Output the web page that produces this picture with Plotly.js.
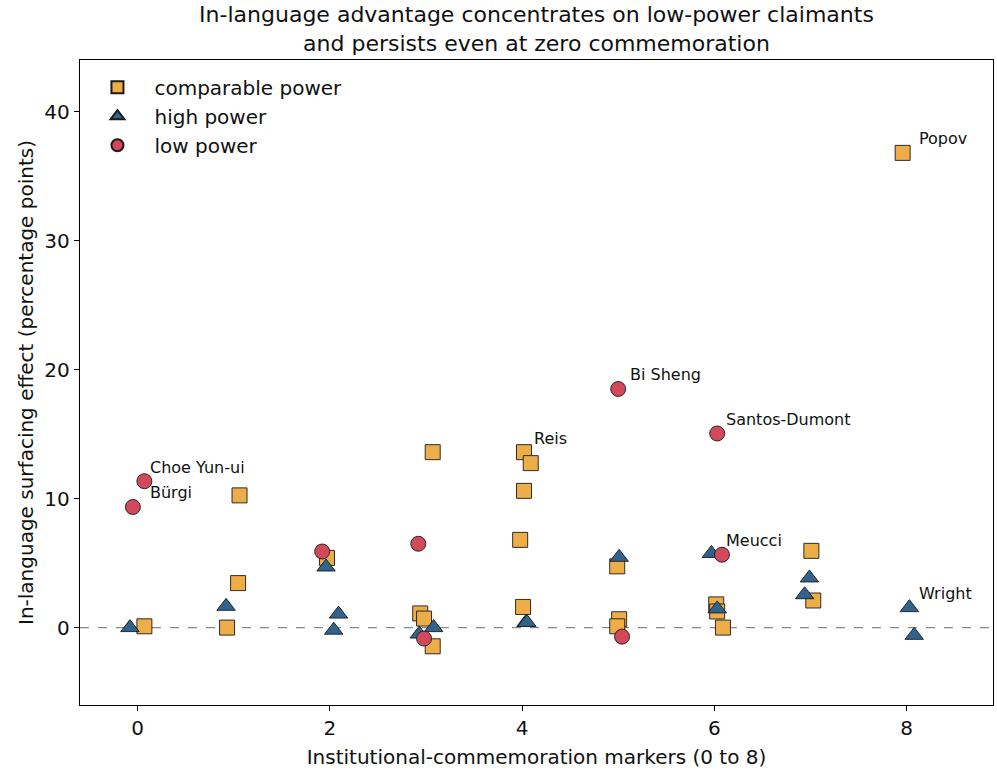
<!DOCTYPE html>
<html>
<head>
<meta charset="utf-8">
<script src="https://cdn.plot.ly/plotly-3.0.1.min.js"></script>
<style>html,body{margin:0;padding:0;background:#fff;}#chart{width:997px;height:770px;}</style>
</head>
<body>
<div id="chart"></div>
<script>
// ---- data ----
const seriesNames = ["comparable power", "high power", "low power"];

const comparableX = [0.07, 0.93, 1.045, 1.06, 1.97, 2.94, 2.98, 3.07, 3.07, 3.98, 4.01, 4.02, 4.02, 4.09, 4.99, 5.01, 4.99, 6.02, 6.03, 6.09, 7.01, 7.03, 7.96];
const comparableY = [0.1, 0.0, 3.45, 10.25, 5.4, 1.1, 0.7, -1.45, 13.6, 6.8, 1.6, 10.6, 13.6, 12.75, 4.75, 0.65, 0.1, 1.8, 1.25, 0.0, 5.95, 2.1, 36.8];

const highX = [-0.08, 0.92, 1.96, 2.04, 2.09, 2.93, 3.08, 4.04, 4.05, 5.01, 5.97, 6.03, 6.99, 6.94, 8.03, 8.08];
const highY = [0.0, 1.65, 4.7, -0.2, 1.05, -0.5, 0.0, 0.4, 0.4, 5.45, 5.75, 1.45, 3.85, 2.55, 1.55, -0.6];

const lowX = [-0.05, 0.07, 1.92, 2.92, 2.98, 5.0, 5.04, 6.03, 6.08];
const lowY = [9.35, 11.35, 5.9, 6.5, -0.85, 18.5, -0.7, 15.05, 5.65];

const labelText = ["Popov", "Choe Yun-ui", "Bürgi", "Bi Sheng", "Santos-Dumont", "Reis", "Meucci", "Wright"];
const labelX = [8, 0, 0, 5, 6, 4, 6, 8];
const labelY = [36.8, 11.35, 9.35, 18.5, 15.05, 13.6, 5.65, 1.55];

const titleText = "In-language advantage concentrates on low-power claimants<br>and persists even at zero commemoration";
const xTitle = "Institutional-commemoration markers (0 to 8)";
const yTitle = "In-language surfacing effect (percentage points)";
const xTicks = [0, 2, 4, 6, 8];
const yTicks = [0, 10, 20, 30, 40];

// ---- styles ----
const FONT = "DejaVu Sans, sans-serif";
const colors = {"comparable power": "#edae49", "high power": "#30638e", "low power": "#d1495b"};
const symbols = {"comparable power": "square", "high power": "triangle-up", "low power": "circle"};
const sizes = {"comparable power": 15, "high power": 16, "low power": 15};

const xs = [comparableX, highX, lowX];
const ys = [comparableY, highY, lowY];

const traces = seriesNames.map((name, i) => ({
  type: "scatter",
  mode: "markers",
  name: name,
  legendgroup: name,
  x: xs[i],
  y: ys[i],
  marker: {
    symbol: symbols[name],
    size: sizes[name],
    color: colors[name],
    line: {color: "#1a1a1a", width: 0.9}
  },
  hoverinfo: "x+y+name"
}));

const annotations = labelText.map((t, i) => ({
  x: labelX[i], y: labelY[i], xref: "x", yref: "y",
  text: t, showarrow: false,
  xanchor: "left", yanchor: "middle",
  xshift: 10, yshift: 14,
  font: {family: FONT, size: 16, color: "#111"}
}));

const layout = {
  width: 997, height: 770,
  margin: {l: 80, r: 4, t: 60, b: 65},
  paper_bgcolor: "#fff", plot_bgcolor: "#fff",
  font: {family: FONT, color: "#111"},
  title: {
    text: titleText, font: {family: FONT, size: 22, color: "#111"},
    xref: "paper", x: 0.5, xanchor: "center",
    yref: "paper", y: 1, yanchor: "bottom", pad: {b: 38}
  },
  xaxis: {
    range: [-0.6, 8.9], tickvals: xTicks, ticktext: xTicks.map(String),
    showgrid: false, zeroline: false,
    showline: true, mirror: true, linecolor: "#000", linewidth: 1.3,
    ticks: "outside", ticklen: 5, tickwidth: 1, tickcolor: "#000",
    tickfont: {family: FONT, size: 20, color: "#111"},
    title: {text: xTitle, font: {family: FONT, size: 20, color: "#111"}, standoff: 10}
  },
  yaxis: {
    range: [-6, 44], tickvals: yTicks, ticktext: yTicks.map(String),
    showgrid: false, zeroline: false,
    showline: true, mirror: true, linecolor: "#000", linewidth: 1.3,
    ticks: "outside", ticklen: 5, tickwidth: 1, tickcolor: "#000",
    tickfont: {family: FONT, size: 20, color: "#111"},
    title: {text: yTitle, font: {family: FONT, size: 20, color: "#111"}, standoff: 5}
  },
  shapes: [{
    type: "line", xref: "paper", x0: 0, x1: 1, yref: "y", y0: 0, y1: 0,
    line: {color: "#888", width: 1.4, dash: "dash"}, layer: "below"
  }],
  annotations: annotations,
  showlegend: true,
  legend: {
    x: 0.0005, y: 0.988, xanchor: "left", yanchor: "top",
    bgcolor: "rgba(255,255,255,0)", borderwidth: 0,
    font: {family: FONT, size: 20, color: "#111"},
    tracegroupgap: 0, itemsizing: "constant", itemwidth: 64
  }
};

Plotly.newPlot("chart", traces, layout, {displayModeBar: false, staticPlot: true});
</script>
</body>
</html>
